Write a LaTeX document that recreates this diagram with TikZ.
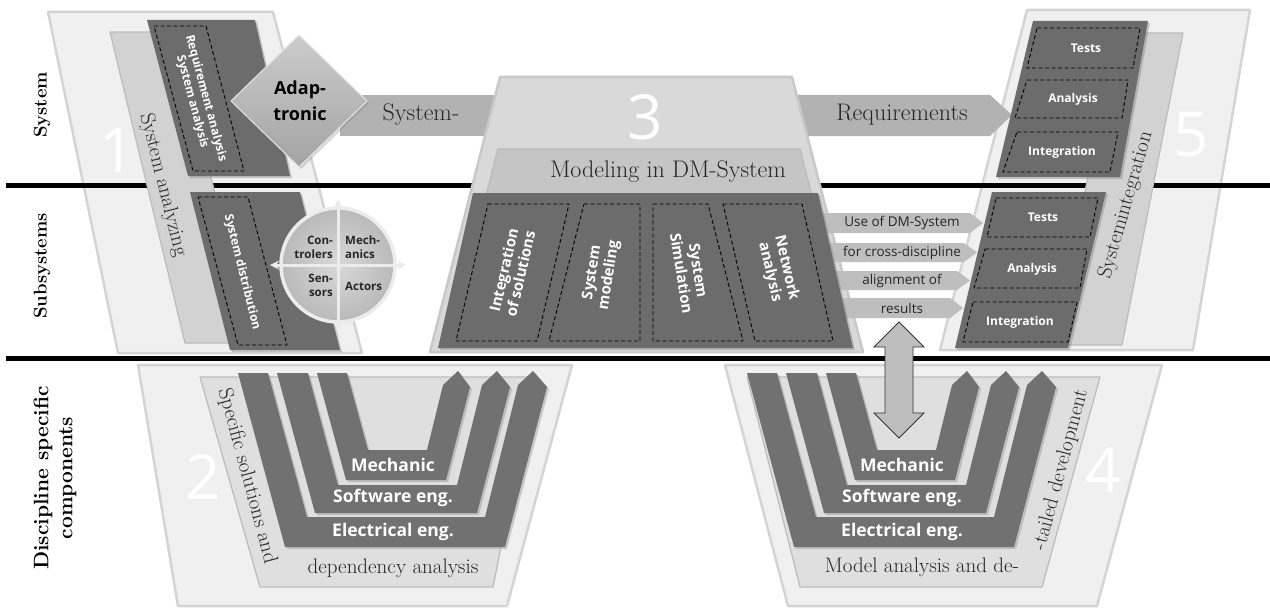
\documentclass[tikz,border=0pt]{standalone}
\usepackage{fontspec}
\setsansfont{Open Sans}
\usepackage{tikz}
\usetikzlibrary{arrows,shapes,positioning,shadows}

\definecolor{regfill}{HTML}{F0F0F0}
\definecolor{regedge}{HTML}{D4D4D4}
\definecolor{barfill}{HTML}{D2D2D2}
\definecolor{baredge}{HTML}{BCBCBC}
\definecolor{boxfill}{HTML}{6C6C6C}
\definecolor{ufill}{HTML}{717171}
\definecolor{arrfill}{HTML}{B2B2B2}
\definecolor{resfill}{HTML}{BEBEBE}
\definecolor{trapfill}{HTML}{D9D9D9}
\definecolor{trapedge}{HTML}{C8C8C8}
\definecolor{modfill}{HTML}{C5C5C5}
\definecolor{txtdark}{HTML}{262626}

\newcommand{\fsz}[2]{\fontsize{#1}{#2}\selectfont}

\tikzset{
  region/.style={fill=regfill, draw=regedge, line width=2.5pt, line join=round},
  sidebar/.style={fill=barfill, draw=baredge, line width=1.2pt, line join=round},
  darkbox/.style={fill=boxfill, drop shadow={shadow xshift=2pt, shadow yshift=-2pt, opacity=0.4}},
  ushape/.style={fill=ufill, line join=round, drop shadow={shadow xshift=2pt, shadow yshift=-2pt, opacity=0.35}},
  dashbox/.style={draw=black, dash pattern=on 4pt off 2.5pt, line width=0.9pt, line join=round},
  whitebold/.style={text=white, font=\sffamily\bfseries\fsz{12}{14}, align=center, inner sep=0pt},
  boxtxt/.style={text=white, font=\sffamily\bfseries\fsz{15}{17}, align=center, inner sep=0pt},
  utxt/.style={text=white, font=\sffamily\bfseries\fsz{17.5}{20}, inner sep=0pt},
  bignum/.style={text=white, font=\sffamily\fsz{62}{62}, inner sep=0pt},
  rowlabel/.style={rotate=90, text=black, font=\bfseries\fsz{18.5}{22}, align=center, inner sep=0pt},
  serifbig/.style={text=txtdark, font=\fsz{24}{26}, inner sep=0pt},
  serifmid/.style={text=txtdark, font=\fsz{21}{24}, inner sep=0pt},
  restxt/.style={text=txtdark, font=\sffamily\fsz{13.5}{15}, inner sep=0pt},
  circtxt/.style={text=txtdark, font=\sffamily\bfseries\fsz{11.5}{14}, inner sep=0pt}
}

\begin{document}
\begin{tikzpicture}[x=1pt, y=-1pt]
\useasboundingbox (0,0) rectangle (1270,610);

% outer regions
\draw [region] (48,12) -- (273,12) -- (362,353) -- (118,353) -- cycle;
\draw [region] (1027,10) -- (1250,10) -- (1193,350) -- (940,350) -- cycle;
\draw [region] (138,365) -- (572,365) -- (507,606) -- (178,606) -- cycle;
\draw [region] (725,365) -- (1162,365) -- (1097,606) -- (788,606) -- cycle;

% level lines
\draw [line width=5pt] (6,185) -- (1270,185);
\draw [line width=5pt] (6,358) -- (1270,358);

% % % % % % % % % % % % % % % % % % % % % % % % % %
% 1 - system analyzing
\draw [sidebar] (110,32) -- (176,32) -- (251,343) -- (185,343) -- cycle;
\fill [darkbox] (147,20) -- (255,20) -- (290,176) -- (188,176) -- cycle;
\draw [dashbox] (154,26) -- (206,26) -- (244,171) -- (193,171) -- cycle;
\fill [darkbox] (190,192) -- (300,192) -- (340,350) -- (230,350) -- cycle;
\draw [dashbox] (198,197) -- (248,197) -- (287,345) -- (238,345) -- cycle;

\node [serifmid, rotate=-76] (sysana) at (163,185) {System analyzing};
\node [whitebold, rotate=-75] (reqana) at (199,100) {Requirement analysis\\System analysis};
\node [whitebold, rotate=-76] (sysdist) at (242,272) {System distribution};
\node [bignum] (num1) at (117,150) {1};

\fill [arrfill] (340,95) rectangle (510,136);
\node [serifbig] (sysarr) at (421,115) {System-};

\shade [top color=gray!40, bottom color=gray!72, drop shadow={shadow xshift=2pt, shadow yshift=-2pt, opacity=0.3}] (231,101) -- (299,35) -- (367,101) -- (299,167) -- cycle;
\draw [white!80!gray, line width=1pt, line join=round] (231,101) -- (299,35) -- (367,101) -- (299,167) -- cycle;
\node [font=\sffamily\bfseries\fsz{18}{26}, align=center, text=black, inner sep=0pt] (adap) at (300,101) {Adap-\\tronic};

% component circle
\shade [inner color=gray!30, outer color=gray!55] (338,265) circle (58);
\draw [line width=3.5pt, white!85!gray] (338,265) circle (57);
\draw [line width=3pt, white!85!gray, -stealth] (338,265) -- (406,265);
\draw [line width=3pt, white!85!gray, -stealth] (338,265) -- (270,265);
\draw [line width=3pt, white!85!gray, -stealth] (338,265) -- (338,199);
\draw [line width=3pt, white!85!gray, -stealth] (338,265) -- (338,331);
\node [circtxt, align=right, anchor=east] (ctrl) at (333,247) {Con-\\trolers};
\node [circtxt, align=left, anchor=west] (mech) at (345,247) {Mech-\\anics};
\node [circtxt, align=right, anchor=east] (sens) at (333,285) {Sen-\\sors};
\node [circtxt, anchor=west] (act) at (345,286) {Actors};

% % % % % % % % % % % % % % % % % % % % % % % % % %
% 3 - modeling
\fill [arrfill] (770,95) -- (990,95) -- (1012,115) -- (990,136) -- (770,136) -- cycle;
\node [serifbig] (reqarr) at (902,115) {Requirements};

\draw [fill=trapfill, draw=trapedge, line width=2.5pt, line join=round] (500,77) -- (792,77) -- (863,352) -- (430,352) -- cycle;
\node [bignum] (num3) at (645,117) {3};
\draw [fill=modfill, draw=baredge, line width=1.5pt, line join=round] (498,149) -- (800,149) -- (812,196) -- (486,196) -- cycle;
\node [serifbig] (model) at (668,172) {Modeling in DM-System};

\fill [resfill] (810,213) -- (970,213) -- (983,223) -- (970,233) -- (810,233) -- cycle;
\fill [resfill] (810,243) -- (964,243) -- (977,252.5) -- (964,262) -- (810,262) -- cycle;
\fill [resfill] (810,271) -- (957,271) -- (970,280.5) -- (957,290) -- (810,290) -- cycle;
\fill [resfill] (810,298) -- (950,298) -- (963,308) -- (950,318) -- (810,318) -- cycle;
\node [restxt] (use) at (902,223) {Use of DM-System};
\node [restxt] (cross) at (902,252.5) {for cross-discipline};
\node [restxt] (align) at (902,280.5) {alignment of};
\node [restxt] (res) at (902,308) {results};

\fill [darkbox] (473,193) -- (818,193) -- (853,348) -- (438,348) -- cycle;
\draw [dashbox] (488,204) -- (569,204) -- (537,341) -- (456,341) -- cycle;
\draw [dashbox] (584,204) -- (640,204) -- (640,341) -- (549,341) -- cycle;
\draw [dashbox] (653,204) -- (708,204) -- (743,341) -- (653,341) -- cycle;
\draw [dashbox] (723,204) -- (802,204) -- (833,341) -- (755,341) -- cycle;
\node [boxtxt, rotate=77] (integ) at (512,272) {Integration\\of solutions};
\node [boxtxt, rotate=81] (sysmod) at (601,274) {System\\modeling};
\node [boxtxt, rotate=-81] (syssim) at (690,272) {System\\Simulation};
\node [boxtxt, rotate=-77] (netw) at (778,270) {Network\\analysis};

% % % % % % % % % % % % % % % % % % % % % % % % % %
% 5 - system integration
\draw [sidebar] (1116,33) -- (1183,33) -- (1122,345) -- (1055,345) -- cycle;
\fill [darkbox] (1033,21) -- (1148,21) -- (1120,177) -- (996,177) -- cycle;
\draw [dashbox] (1037,28) -- (1140,28) -- (1133,68) -- (1027,68) -- cycle;
\draw [dashbox] (1027,80) -- (1128,80) -- (1122,118) -- (1015,118) -- cycle;
\draw [dashbox] (1017,132) -- (1118,132) -- (1110,172) -- (1003,172) -- cycle;
\fill [darkbox] (992,192) -- (1106,192) -- (1068,348) -- (955,348) -- cycle;
\draw [dashbox] (996,198) -- (1098,198) -- (1090,237) -- (987,237) -- cycle;
\draw [dashbox] (985,249) -- (1087,249) -- (1080,288) -- (974,288) -- cycle;
\draw [dashbox] (973,302) -- (1077,302) -- (1068,342) -- (963,342) -- cycle;
\node [whitebold] (test1) at (1086,48) {Tests};
\node [whitebold] (anal1) at (1073,99) {Analysis};
\node [whitebold] (intg1) at (1062,152) {Integration};
\node [whitebold] (test2) at (1043,217) {Tests};
\node [whitebold] (anal2) at (1032,269) {Analysis};
\node [whitebold] (intg2) at (1020,322) {Integration};
\node [serifmid, rotate=74] (sysint) at (1126,205) {Systemintegration};
\node [bignum] (num5) at (1191,135) {5};

% % % % % % % % % % % % % % % % % % % % % % % % % %
% 2 - specific solutions
\draw [fill=barfill!70!white, draw=baredge, line width=1.2pt, line join=round] (200,377) -- (535,377) -- (493,587) -- (260,587) -- cycle;
\fill [ushape] (238,373) -- (268,373) -- (307,517) -- (485,517) -- (518,385) -- (533,371) -- (547,387) -- (505,547) -- (285,547) -- cycle;
\fill [ushape] (277,373) -- (308,373) -- (338,485) -- (457,485) -- (482,385) -- (497,371) -- (510,387) -- (477,513) -- (315,513) -- cycle;
\fill [ushape] (317,373) -- (347,373) -- (368,450) -- (427,450) -- (443,385) -- (458,371) -- (470,387) -- (446,480) -- (346,480) -- cycle;
\node [utxt] (mecha) at (393,465) {Mechanic};
\node [utxt] (softa) at (393,498) {Software eng.};
\node [utxt] (elea) at (393,532) {Electrical eng.};
\node [serifmid, rotate=-75] (specsol) at (247,476) {Specific solutions and};
\node [serifmid] (depana) at (393,568) {dependency analysis};
\node [bignum] (num2) at (203,477) {2};

% 4 - detailed development
\draw [fill=barfill!70!white, draw=baredge, line width=1.2pt, line join=round] (747,377) -- (1100,377) -- (1042,587) -- (800,587) -- cycle;
\begin{scope}[xshift=509pt]
\fill [ushape] (238,373) -- (268,373) -- (307,517) -- (485,517) -- (518,385) -- (533,371) -- (547,387) -- (505,547) -- (285,547) -- cycle;
\fill [ushape] (277,373) -- (308,373) -- (338,485) -- (457,485) -- (482,385) -- (497,371) -- (510,387) -- (477,513) -- (315,513) -- cycle;
\fill [ushape] (317,373) -- (347,373) -- (368,450) -- (427,450) -- (443,385) -- (458,371) -- (470,387) -- (446,480) -- (346,480) -- cycle;
\end{scope}
\node [utxt] (mechb) at (902,465) {Mechanic};
\node [utxt] (softb) at (902,498) {Software eng.};
\node [utxt] (eleb) at (902,532) {Electrical eng.};
\node [serifmid] (modana) at (922,567) {Model analysis and de-};
\node [serifmid, rotate=75] (tailed) at (1061,470) {-tailed development};
\node [bignum] (num4) at (1103,470) {4};

% exchange arrow
\draw [fill=resfill, draw=gray!40!black, line width=0.8pt] (899,322) -- (924,347) -- (913,347) -- (913,413) -- (924,413) -- (899,438) -- (874,413) -- (885,413) -- (885,347) -- (874,347) -- cycle;

% row labels
\node [rowlabel] (lsys) at (42,105) {System};
\node [rowlabel] (lsub) at (42,266) {Subsystems};
\node [rowlabel, font=\bfseries\fsz{21}{24}] (ldisc) at (55,478) {Discipline specific\\components};
\end{tikzpicture}
\end{document}
